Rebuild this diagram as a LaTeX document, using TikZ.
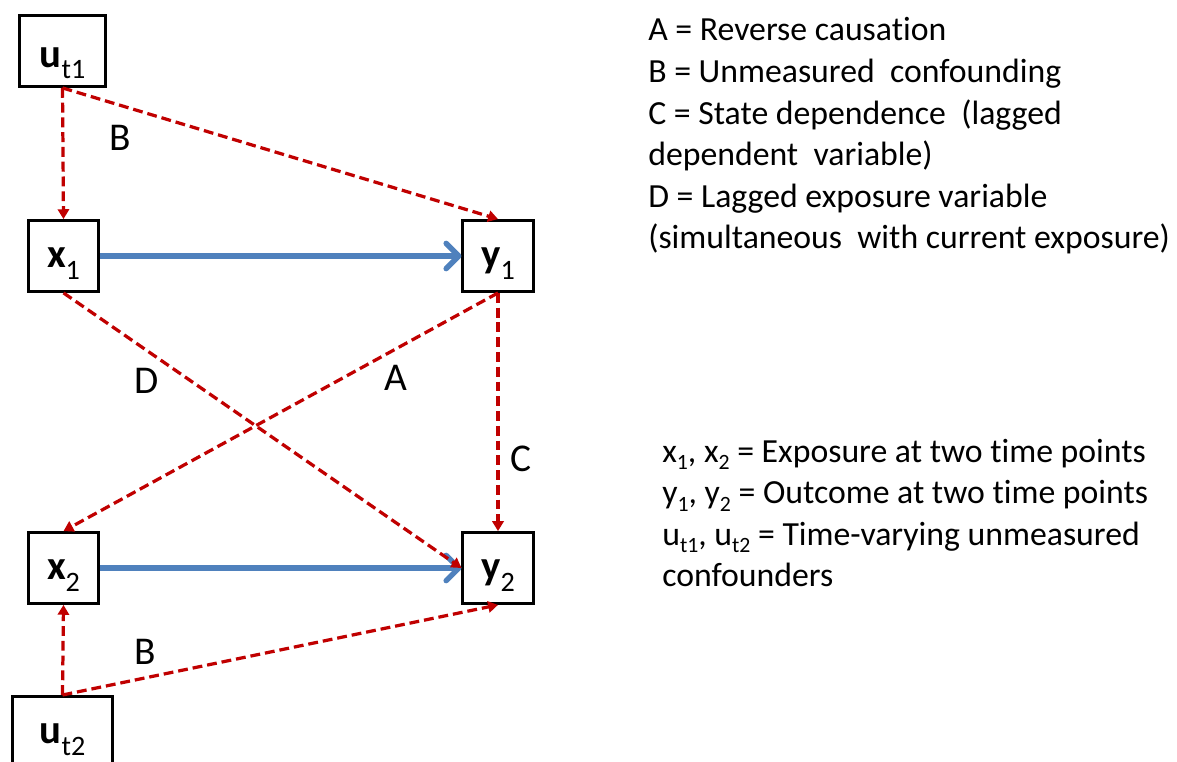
\documentclass[tikz,border=0pt]{standalone}
\usepackage{fontspec}
\setmainfont{Carlito}[Ligatures=NoCommon]
\usetikzlibrary{arrows.meta}

\newcommand{\boxsub}[1]{\raisebox{-8pt}{\fontsize{20}{20}\selectfont\mdseries #1}}
\newcommand{\keysub}[1]{\raisebox{-5.5pt}{\fontsize{15.5}{15.5}\selectfont #1}}

\begin{document}
\begin{tikzpicture}[
  x=0.025cm, y=-0.025cm,
  every node/.style={inner sep=0pt},
  var/.style={draw, line width=2pt, minimum width=50pt, minimum height=50.5pt,
    font=\fontsize{29}{29}\selectfont\bfseries, text height=17pt, text depth=0pt},
  conf/.style={var, text height=23pt},
  bias/.style={biasred, line width=2.3pt, dash pattern=on 7pt off 3.5pt,
    -{Triangle[length=7pt,width=8pt]}},
  effect/.style={effblue, line width=3.8pt,
    -{Straight Barb[length=9pt,width=18pt,line cap=round,line join=round]}},
  lab/.style={font=\fontsize{28}{28}\selectfont},
  key/.style={font=\fontsize{24}{29.5}\selectfont, anchor=base west},
]

\definecolor{biasred}{HTML}{C00000}
\definecolor{effblue}{HTML}{4F81BD}

\def\dy{41.5}   % legend line step

\useasboundingbox (0,0) rectangle (1177,762);

% variables
\node[conf, minimum width=61pt] (ut1) at (62.5,51) {u\boxsub{t1}};
\node[var] (x1) at (63.5,256) {x\boxsub{1}};
\node[var] (y1) at (498,256) {y\boxsub{1}};
\node[var] (x2) at (63.5,568) {x\boxsub{2}};
\node[var] (y2) at (498,568) {y\boxsub{2}};
\node[var, minimum width=71pt, anchor=north] (ut2) at (62.5,695) {u\boxsub{t2}};

% causal effect of interest
\draw[effect] (x1.east) -- (y1.west);
\draw[effect] (x2.east) -- (y2.west);

% biasing paths
\draw[bias] (ut1.south) -- (x1.north);
\draw[bias] (ut1.south) -- (y1.north);
\draw[bias] (x1.south) -- (y2.west);
\draw[bias] (y1.south) -- (x2.north);
\draw[bias] (y1.south) -- (y2.north);
\draw[bias] (ut2.north) -- (x2.south);
\draw[bias] (ut2.north) -- (y2.south);

% path labels
\node[lab] (labB1) at (120,138) {B};
\node[lab] (labD) at (147,381) {D};
\node[lab] (labA) at (396,378) {A};
\node[lab] (labC) at (521,459) {C};
\node[lab] (labB2) at (145,652) {B};

% legend
\def\keyrows{%
  {A = Reverse causation},
  {B = Unmeasured\ \ confounding},
  {C = State dependence\ \ (lagged},
  {dependent\ \ variable)},
  {D = Lagged exposure variable},
  {(simultaneous\ \ with current exposure)}%
}
\foreach \txt [count=\i from 0] in \keyrows {
  \node[key] (key\i) at (648,{41+\i*\dy}) {\txt};
}

\def\varrows{%
  {x\keysub{1}, x\keysub{2} = Exposure at two time points},
  {y\keysub{1}, y\keysub{2} = Outcome at two time points},
  {u\keysub{t1}, u\keysub{t2} = Time-varying unmeasured},
  {confounders}%
}
\foreach \txt [count=\i from 0] in \varrows {
  \node[key] (var\i) at (662,{462+\i*\dy}) {\txt};
}

\end{tikzpicture}
\end{document}
